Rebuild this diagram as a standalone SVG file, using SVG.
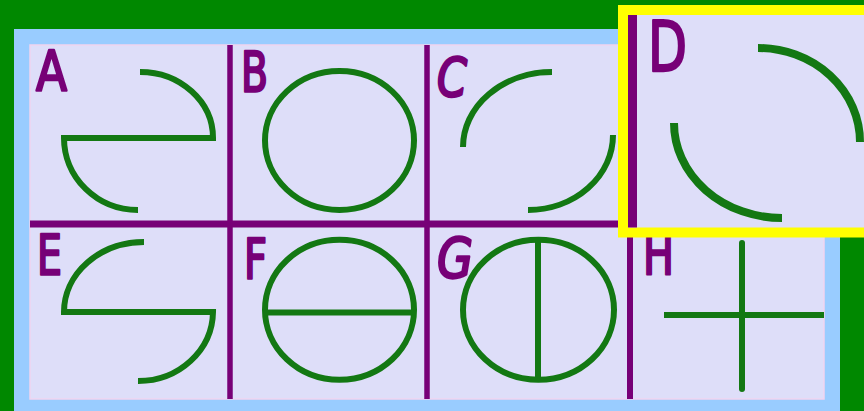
<svg xmlns="http://www.w3.org/2000/svg" width="864" height="411" viewBox="0 0 864 411">
  <style>
    .g { fill: none; stroke: #137813; stroke-width: 6; }
    .gd { fill: none; stroke: #137813; stroke-width: 8; }
    .grid { stroke: #770077; fill: none; }
    .lbl { font-family: "DejaVu Sans", "Liberation Sans", sans-serif; font-weight: normal; fill: #770077; stroke: #770077; stroke-width: 2.5; stroke-linejoin: round; }
  </style>
  <rect x="0" y="0" width="864" height="411" fill="#008800"/>
  <rect x="14" y="29" width="826" height="382" fill="#99ccff"/>
  <rect x="30" y="45" width="794" height="354" fill="#dedef9" stroke="#f0d4f0" stroke-width="1.5"/>
  <g id="grid">
    <line class="grid" x1="30" y1="224" x2="824" y2="224" stroke-width="7"/>
    <line class="grid" x1="230" y1="45" x2="230" y2="399" stroke-width="5.5"/>
    <line class="grid" x1="427" y1="45" x2="427" y2="399" stroke-width="5.5"/>
    <line class="grid" x1="630" y1="45" x2="630" y2="399" stroke-width="6"/>
  </g>
  <g id="cellA">
    <text class="lbl" x="36" y="90" font-size="55" textLength="31" lengthAdjust="spacingAndGlyphs">A</text>
    <path class="g" d="M140 72 A73 66 0 0 1 213 138 L64 138 A74 72 0 0 0 138 210"/>
  </g>
  <g id="cellB">
    <text class="lbl" x="241" y="91" font-size="55" textLength="27" lengthAdjust="spacingAndGlyphs">B</text>
    <ellipse class="g" cx="339.5" cy="140.5" rx="74.5" ry="69.5"/>
  </g>
  <g id="cellC">
    <text class="lbl" x="437" y="96" font-size="53" font-style="italic" textLength="30" lengthAdjust="spacingAndGlyphs">C</text>
    <path class="g" d="M552 72 A89 75 0 0 0 463 147"/>
    <path class="g" d="M613 135 A85 75 0 0 1 528 210"/>
  </g>
  <g id="cellE">
    <text class="lbl" x="37" y="274" font-size="55" textLength="25" lengthAdjust="spacingAndGlyphs">E</text>
    <path class="g" d="M144 242 A80 70 0 0 0 64 312 L213 312 A75 70 0 0 1 138 381"/>
  </g>
  <g id="cellF">
    <text class="lbl" x="244" y="278" font-size="55" textLength="23" lengthAdjust="spacingAndGlyphs">F</text>
    <ellipse class="g" cx="339.5" cy="309.7" rx="74.5" ry="70"/>
    <line class="g" x1="265" y1="312.5" x2="414" y2="312.5"/>
  </g>
  <g id="cellG">
    <text class="lbl" x="437" y="277" font-size="55" font-style="italic" textLength="36" lengthAdjust="spacingAndGlyphs">G</text>
    <ellipse class="g" cx="538.5" cy="309.7" rx="75.5" ry="70"/>
    <line class="g" x1="538" y1="240" x2="538" y2="380"/>
  </g>
  <g id="cellH">
    <text class="lbl" x="643" y="274" font-size="55" textLength="31" lengthAdjust="spacingAndGlyphs">H</text>
    <line class="g" x1="664" y1="315" x2="824" y2="315"/>
    <line class="g" x1="742" y1="243" x2="742" y2="389" stroke-linecap="round"/>
  </g>
  <g id="cellD">
    <rect x="623" y="10" width="250" height="222.5" fill="#dedef9" stroke="#ffff00" stroke-width="10"/>
    <line class="grid" x1="632.5" y1="15" x2="632.5" y2="227.5" stroke-width="9"/>
    <text class="lbl" x="648" y="71" font-size="70" textLength="39" lengthAdjust="spacingAndGlyphs" stroke-width="3">D</text>
    <path class="gd" d="M758 48 A102 94 0 0 1 860 142"/>
    <path class="gd" d="M674 123 A108 95 0 0 0 782 218"/>
  </g>
</svg>
